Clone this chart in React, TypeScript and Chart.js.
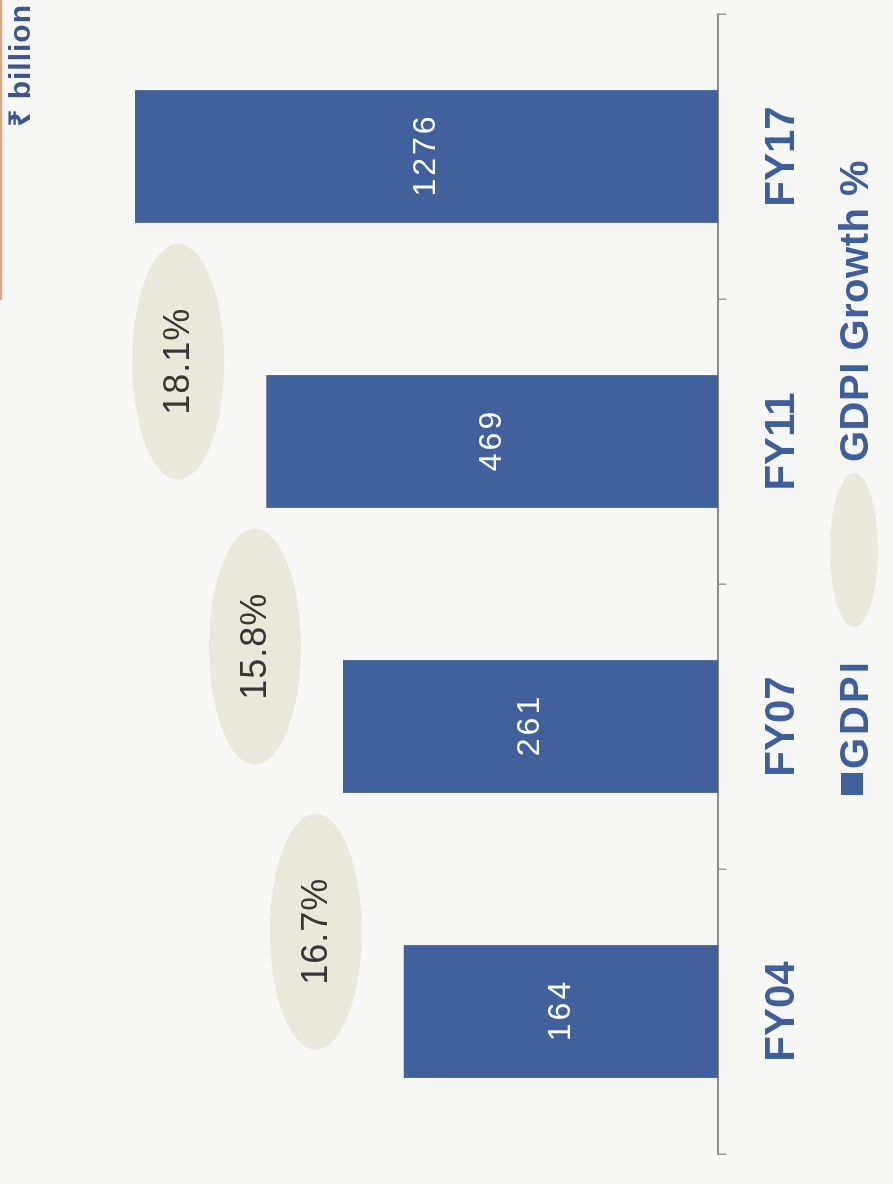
import React, { useEffect, useRef } from 'react';
import { Chart, registerables } from 'chart.js';

Chart.register(...registerables);

// ---- data ----
const categories = ['FY04', 'FY07', 'FY11', 'FY17'];
const gdpiValues = [164, 261, 469, 1276];
const growthValues = [16.7, 15.8, 18.1];
const seriesNames = ['GDPI', 'GDPI Growth %'];
const unitLabel = '₹ billion';

// ---- look ----
const W = 1184;
const H = 893;
const FONT = '"Liberation Sans", Arial, "Noto Sans", "DejaVu Sans", sans-serif';
const BG = '#f7f7f5';
const BAR = '#41619d';
const NAVY = '#3e5e9c';
const ELLIPSE = '#e8e9da';
const ELLIPSE_TEXT = '#363636';

const decorPlugin = {
  id: 'decor',
  beforeDraw(chart: any) {
    const ctx = chart.ctx;
    ctx.save();
    ctx.fillStyle = BG;
    ctx.fillRect(0, 0, chart.width, chart.height);
    // orange page edge
    ctx.fillStyle = '#eaa27a';
    ctx.fillRect(chart.width - 300, 0, 300, 2);
    ctx.restore();
  },
  afterDatasetsDraw(chart: any) {
    const ctx = chart.ctx;
    const meta = chart.getDatasetMeta(0);
    const xs = chart.scales.x;
    ctx.save();
    // value labels in bars
    ctx.fillStyle = '#ffffff';
    ctx.font = `32px ${FONT}`;
    ctx.textAlign = 'center';
    ctx.textBaseline = 'middle';
    (ctx as any).letterSpacing = '3px';
    meta.data.forEach((bar: any, i: number) => {
      const cy = (bar.y + bar.base) / 2;
      ctx.fillText(String(gdpiValues[i]), bar.x + 1.5, cy);
    });
    // growth ellipses
    growthValues.forEach((g, i) => {
      const cx = xs.getPixelForValue(i + 0.28);
      const cy = meta.data[i].y - 88;
      ctx.beginPath();
      ctx.ellipse(cx, cy, 118, 46, 0, 0, Math.PI * 2);
      ctx.fillStyle = ELLIPSE;
      ctx.fill();
      ctx.fillStyle = ELLIPSE_TEXT;
      ctx.font = `36px ${FONT}`;
      (ctx as any).letterSpacing = '1px';
      ctx.fillText(g.toFixed(1) + '%', cx + 0.5, cy + 1);
    });
    ctx.restore();
  },
  afterDraw(chart: any) {
    const ctx = chart.ctx;
    ctx.save();
    ctx.textBaseline = 'middle';
    // legend
    ctx.fillStyle = BAR;
    ctx.fillRect(389, 841, 22, 22);
    ctx.fillStyle = NAVY;
    ctx.font = `bold 40px ${FONT}`;
    ctx.textAlign = 'left';
    (ctx as any).letterSpacing = '3px';
    ctx.fillText(seriesNames[0], 415, 857);
    ctx.beginPath();
    ctx.ellipse(634, 854, 77, 24, 0, 0, Math.PI * 2);
    ctx.fillStyle = ELLIPSE;
    ctx.fill();
    ctx.fillStyle = NAVY;
    (ctx as any).letterSpacing = '0.5px';
    ctx.fillText(seriesNames[1], 722, 857);
    // unit label
    ctx.font = `bold 30px ${FONT}`;
    ctx.textAlign = 'right';
    (ctx as any).letterSpacing = '1px';
    ctx.fillStyle = '#3a5590';
    ctx.fillText(unitLabel, 1180, 22);
    ctx.restore();
  },
};

export default function App() {
  const ref = useRef<HTMLCanvasElement>(null);
  useEffect(() => {
    document.body.style.margin = '0';
    const chart = new Chart(ref.current as HTMLCanvasElement, {
      type: 'bar',
      data: {
        labels: categories,
        datasets: [
          {
            label: seriesNames[0],
            data: gdpiValues,
            backgroundColor: BAR,
            borderWidth: 0,
            barPercentage: 0.466,
            categoryPercentage: 1,
          },
        ],
      },
      options: {
        responsive: false,
        animation: false,
        devicePixelRatio: 1,
        layout: { padding: { left: 30, right: 14, top: 20, bottom: 0 } },
        plugins: {
          legend: { display: false },
          tooltip: { enabled: false },
        },
        scales: {
          x: {
            type: 'category',
            offset: true,
            grid: {
              offset: true,
              drawOnChartArea: false,
              drawTicks: true,
              tickLength: 8,
              color: '#9a9a9a',
              lineWidth: 1.5,
            },
            border: { display: true, color: '#8c8c8c', width: 2 },
            ticks: {
              color: NAVY,
              font: { family: FONT, size: 42, weight: 'bold' },
              padding: 31,
              maxRotation: 0,
              autoSkip: false,
            },
            afterFit: (s: any) => {
              s.height = 175;
            },
          },
          y: {
            type: 'logarithmic',
            min: 14.9,
            max: 3070,
            display: false,
          },
        },
      },
      plugins: [decorPlugin],
    } as any);
    return () => chart.destroy();
  }, []);

  return (
    <div
      style={{
        position: 'fixed',
        left: 0,
        top: 0,
        width: H,
        height: W,
        overflow: 'hidden',
        background: BG,
      }}
    >
      <div
        style={{
          position: 'absolute',
          left: 0,
          top: 0,
          width: W,
          height: H,
          transformOrigin: '0 0',
          transform: `translateY(${W}px) rotate(-90deg)`,
        }}
      >
        <canvas ref={ref} width={W} height={H} style={{ display: 'block', width: W, height: H }} />
      </div>
    </div>
  );
}
